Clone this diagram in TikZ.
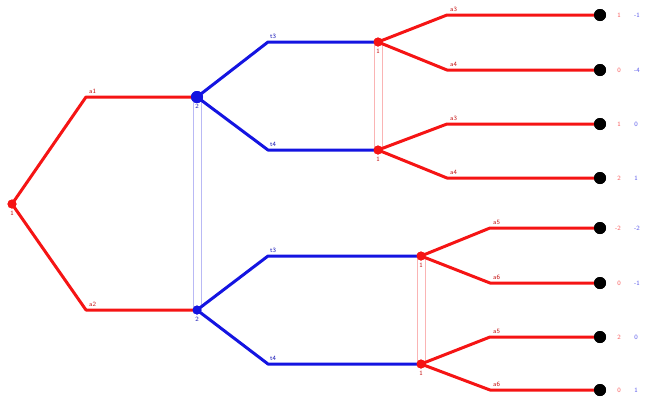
\documentclass[tikz,border=0pt]{standalone}
\usepackage{tikz}
\usetikzlibrary{positioning}

\definecolor{treered}{RGB}{245,20,20}
\definecolor{treeblue}{RGB}{20,20,225}
\definecolor{infored}{RGB}{250,180,180}
\definecolor{infoblue}{RGB}{185,185,245}

\begin{document}
\begin{tikzpicture}[
        x=1pt, y=-1pt,
        font=\sffamily\fontsize{6.5}{7}\selectfont,
        redline/.style={line width=3pt, color=treered, line join=round},
        blueline/.style={line width=3pt, color=treeblue, line join=round},
        reddot/.style={circle, fill=treered, inner sep=0pt, minimum size=9pt},
        bluedot/.style={circle, fill=treeblue, inner sep=0pt, minimum size=9pt},
        leaf/.style={circle, fill=black, inner sep=0pt, minimum size=12pt},
        redinfo/.style={line width=0.7pt, color=infored},
        blueinfo/.style={line width=0.7pt, color=infoblue},
        redlab/.style={color=treered!80!black, inner sep=1pt},
        bluelab/.style={color=treeblue!80!black, inner sep=1pt},
        payred/.style={color=treered!70, inner sep=0pt},
        payblue/.style={color=treeblue!70, inner sep=0pt}
    ]
    \useasboundingbox (0,0) rectangle (655,400);

    % Nodes
    \node[reddot] (root) at (12,204) {};
    \node[bluedot, minimum size=12pt] (b1) at (197,97) {};
    \node[bluedot] (b2) at (197,310) {};
    \node[reddot] (r1) at (378,42) {};
    \node[reddot] (r2) at (378,150) {};
    \node[reddot] (r3) at (421,256) {};
    \node[reddot] (r4) at (421,364) {};
    \node[leaf] (l1) at (600,15) {};
    \node[leaf] (l2) at (600,70) {};
    \node[leaf] (l3) at (600,124) {};
    \node[leaf] (l4) at (600,178) {};
    \node[leaf] (l5) at (600,228) {};
    \node[leaf] (l6) at (600,283) {};
    \node[leaf] (l7) at (600,337) {};
    \node[leaf] (l8) at (600,390) {};

    % Bends
    \coordinate (k1) at (86,97);
    \coordinate (k2) at (86,310);
    \coordinate (k3) at (268,42);
    \coordinate (k4) at (268,150);
    \coordinate (k5) at (268,256);
    \coordinate (k6) at (268,364);
    \coordinate (k7) at (447,15);
    \coordinate (k8) at (447,70);
    \coordinate (k9) at (447,124);
    \coordinate (k10) at (447,178);
    \coordinate (k11) at (490,228);
    \coordinate (k12) at (490,283);
    \coordinate (k13) at (490,337);
    \coordinate (k14) at (490,390);

    % Information sets
    \draw[blueinfo] ([xshift=-4pt]b1.center) -- ([xshift=-4pt]b2.center);
    \draw[blueinfo] ([xshift=4pt]b1.center) -- ([xshift=4pt]b2.center);
    \draw[redinfo] ([xshift=-4pt]r1.center) -- ([xshift=-4pt]r2.center);
    \draw[redinfo] ([xshift=4pt]r1.center) -- ([xshift=4pt]r2.center);
    \draw[redinfo] ([xshift=-4pt]r3.center) -- ([xshift=-4pt]r4.center);
    \draw[redinfo] ([xshift=4pt]r3.center) -- ([xshift=4pt]r4.center);

    % Branches
    \draw[redline] (root.center) -- (k1) -- (b1.center);
    \draw[redline] (root.center) -- (k2) -- (b2.center);
    \draw[blueline] (b1.center) -- (k3) -- (r1.center);
    \draw[blueline] (b1.center) -- (k4) -- (r2.center);
    \draw[blueline] (b2.center) -- (k5) -- (r3.center);
    \draw[blueline] (b2.center) -- (k6) -- (r4.center);
    \draw[redline] (r1.center) -- (k7) -- (l1.center);
    \draw[redline] (r1.center) -- (k8) -- (l2.center);
    \draw[redline] (r2.center) -- (k9) -- (l3.center);
    \draw[redline] (r2.center) -- (k10) -- (l4.center);
    \draw[redline] (r3.center) -- (k11) -- (l5.center);
    \draw[redline] (r3.center) -- (k12) -- (l6.center);
    \draw[redline] (r4.center) -- (k13) -- (l7.center);
    \draw[redline] (r4.center) -- (k14) -- (l8.center);

    % Dots on top
    \node[reddot] at (root) {};
    \node[bluedot, minimum size=12pt] at (b1) {};
    \node[bluedot] at (b2) {};
    \foreach \n in {r1,r2,r3,r4} \node[reddot] at (\n) {};
    \foreach \n in {l1,l2,l3,l4,l5,l6,l7,l8} \node[leaf] at (\n) {};

    % Player labels
    \node[redlab, below=1pt of root] (pl0) {1};
    \node[bluelab, below=0pt of b1] (pl1) {2};
    \node[bluelab, below=1pt of b2] (pl2) {2};
    \node[redlab, below=1pt of r1] (pl3) {1};
    \node[redlab, below=1pt of r2] (pl4) {1};
    \node[redlab, below=1pt of r3] (pl5) {1};
    \node[redlab, below=1pt of r4] (pl6) {1};

    % Action labels
    \node[redlab, above right=2pt and 2pt of k1] (e1) {a1};
    \node[redlab, above right=2pt and 2pt of k2] (e2) {a2};
    \node[bluelab, above right=2pt and 1pt of k3] (e3) {t3};
    \node[bluelab, above right=2pt and 1pt of k4] (e4) {t4};
    \node[bluelab, above right=2pt and 1pt of k5] (e5) {t3};
    \node[bluelab, above right=2pt and 1pt of k6] (e6) {t4};
    \node[redlab, above right=2pt and 2pt of k7] (e7) {a3};
    \node[redlab, above right=2pt and 2pt of k8] (e8) {a4};
    \node[redlab, above right=2pt and 2pt of k9] (e9) {a3};
    \node[redlab, above right=2pt and 2pt of k10] (e10) {a4};
    \node[redlab, above right=2pt and 2pt of k11] (e11) {a5};
    \node[redlab, above right=2pt and 2pt of k12] (e12) {a6};
    \node[redlab, above right=2pt and 2pt of k13] (e13) {a5};
    \node[redlab, above right=2pt and 2pt of k14] (e14) {a6};

    % Payoffs
    \node[payred] (u1) at ([xshift=19pt]l1.center) {1};
    \node[payblue] (v1) at ([xshift=37pt]l1.center) {-1};
    \node[payred] (u2) at ([xshift=19pt]l2.center) {0};
    \node[payblue] (v2) at ([xshift=37pt]l2.center) {-4};
    \node[payred] (u3) at ([xshift=19pt]l3.center) {1};
    \node[payblue] (v3) at ([xshift=36pt]l3.center) {0};
    \node[payred] (u4) at ([xshift=19pt]l4.center) {2};
    \node[payblue] (v4) at ([xshift=36pt]l4.center) {1};
    \node[payred] (u5) at ([xshift=18pt]l5.center) {-2};
    \node[payblue] (v5) at ([xshift=37pt]l5.center) {-2};
    \node[payred] (u6) at ([xshift=19pt]l6.center) {0};
    \node[payblue] (v6) at ([xshift=37pt]l6.center) {-1};
    \node[payred] (u7) at ([xshift=19pt]l7.center) {2};
    \node[payblue] (v7) at ([xshift=36pt]l7.center) {0};
    \node[payred] (u8) at ([xshift=19pt]l8.center) {0};
    \node[payblue] (v8) at ([xshift=36pt]l8.center) {1};

\end{tikzpicture}
\end{document}
